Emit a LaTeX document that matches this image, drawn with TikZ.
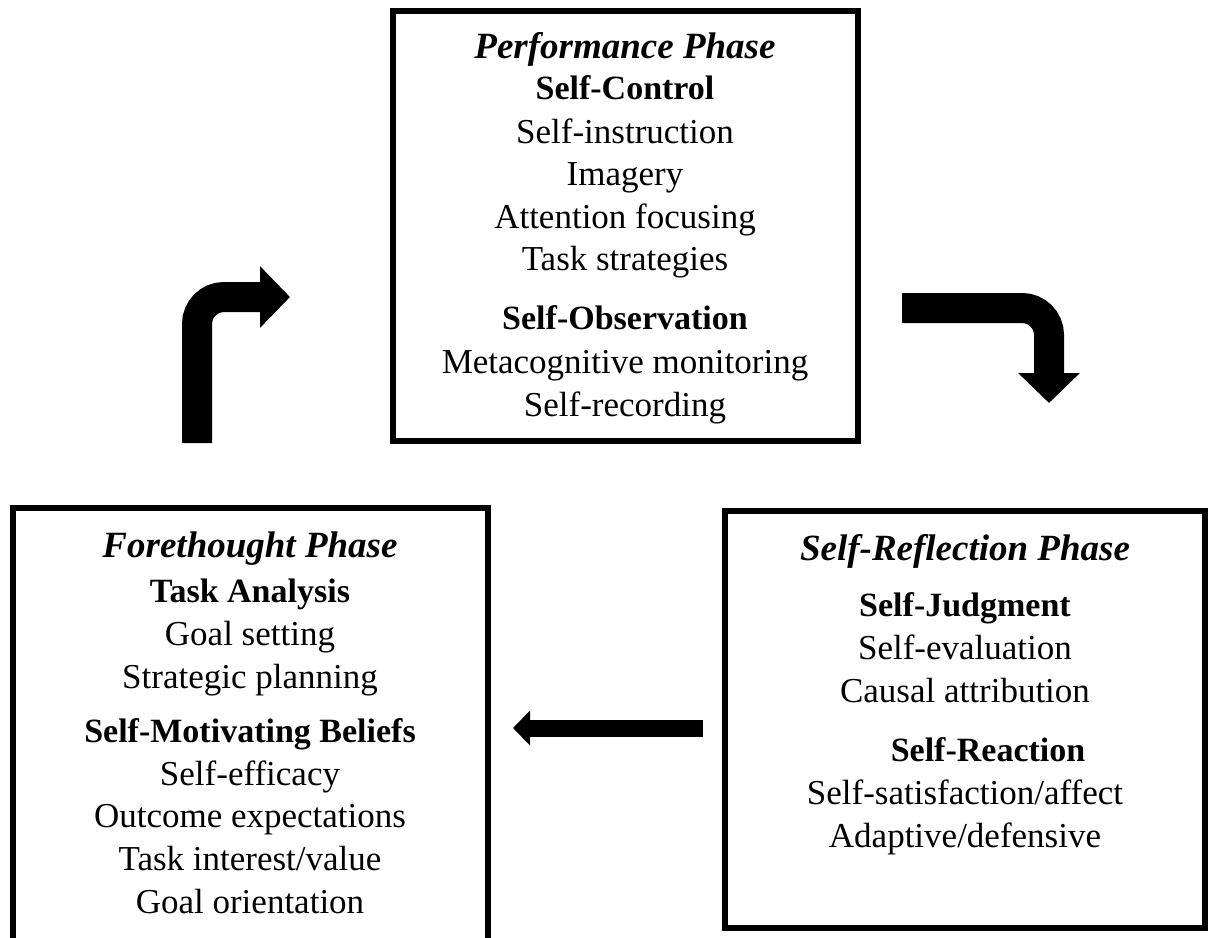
\documentclass[tikz,border=0pt]{standalone}
\usepackage{fontspec}
\setmainfont{Liberation Serif}
\usetikzlibrary{arrows.meta}
\newcommand{\phasefont}{\fontsize{37}{40}\selectfont\bfseries\itshape}
\tikzset{
  phasebox/.style={line width=6pt},
  phase/.style={font=\phasefont,anchor=base},
  subhead/.style={font=\fontsize{34}{38}\selectfont\bfseries,anchor=base},
  item/.style={font=\fontsize{35}{38}\selectfont,anchor=base},
  bentarrow/.style={line width=30pt,rounded corners=27pt,-{Triangle[length=30pt,width=60pt]}},
  backarrow/.style={line width=17pt,-{Triangle[length=17pt,width=34pt]}}
}
\begin{document}
\begin{tikzpicture}[x=1pt,y=-1pt]
    \useasboundingbox (0,0) rectangle (1217,937);
    \draw[phasebox] (393,11) rectangle (858,441);
    \draw[phasebox] (13,950) -- (13,508) -- (488,508) -- (488,950);
    \draw[phasebox] (725,511) rectangle (1205,928);
    \node[phase] (perf) at (625,58) {Performance Phase};
    \node[subhead] (control) at (625,99) {Self-Control};
    \foreach \t [count=\i] in {Self-instruction,Imagery,Attention focusing,Task strategies}
    \node[item] (control\i) at (625,{143+42.5*(\i-1)}) {\t};
    \node[subhead] (observe) at (625,329) {Self-Observation};
    \node[item] (observe1) at (625,373) {Metacognitive monitoring};
    \node[item] (observe2) at (625,416) {Self-recording};
    \node[phase] (fore) at (250,557) {Forethought Phase};
    \node[subhead] (analysis) at (250,602) {Task Analysis};
    \node[item] (analysis1) at (250,645) {Goal setting};
    \node[item] (analysis2) at (250,688) {Strategic planning};
    \node[subhead] (beliefs) at (250,742) {Self-Motivating Beliefs};
    \foreach \t [count=\i] in {Self-efficacy,Outcome expectations,Task interest/value,Goal orientation}
    \node[item] (beliefs\i) at (250,{785+42.7*(\i-1)}) {\t};
    \node[phase] (reflect) at (965,560) {Self-Reflection Phase};
    \node[subhead] (judge) at (965,616) {Self-Judgment};
    \node[item] (judge1) at (965,659) {Self-evaluation};
    \node[item] (judge2) at (965,702) {Causal attribution};
    \node[subhead] (react) at (988,761) {Self-Reaction};
    \node[item] (react1) at (965,804) {Self-satisfaction/affect};
    \node[item] (react2) at (965,847) {Adaptive/defensive};
    \coordinate (upfoot) at (197,443);
    \coordinate (upbend) at (197,297);
    \coordinate (uptip) at (290,297);
    \coordinate (downfoot) at (902,308);
    \coordinate (downbend) at (1049,308);
    \coordinate (downtip) at (1049,403);
    \coordinate (backfoot) at (703,728);
    \coordinate (backtip) at (513,728);
    \draw[bentarrow] (upfoot) -- (upbend) -- (uptip);
    \draw[bentarrow] (downfoot) -- (downbend) -- (downtip);
    \draw[backarrow] (backfoot) -- (backtip);
\end{tikzpicture}
\end{document}
